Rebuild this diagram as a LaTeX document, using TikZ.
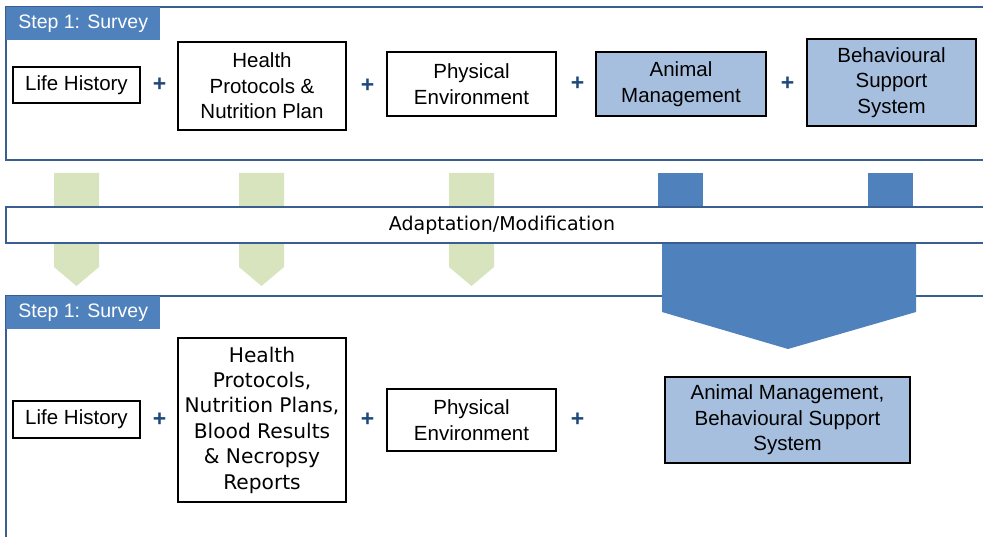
\documentclass[tikz,border=0pt]{standalone}
\usepackage{fontspec}
\setmainfont{Liberation Sans}
\newfontfamily\verdfont{DejaVu Sans}
\usepackage{tikz}
\usetikzlibrary{positioning,calc}
\definecolor{panelblue}{RGB}{58,94,145}
\definecolor{tabblue}{RGB}{79,129,189}
\definecolor{boxblue}{RGB}{167,191,222}
\definecolor{arrowgreen}{RGB}{215,228,189}
\definecolor{plusblue}{RGB}{31,73,125}
\tikzset{
    panel line/.style={draw=panelblue, line width=1.8pt},
    tab/.style={anchor=north west, fill=tabblue, text=white, minimum width=154, minimum height=33, inner sep=0pt, font=\fontsize{19.5}{22}\selectfont},
    item/.style={draw=black, line width=1.2pt, align=center, inner sep=0pt, font=\fontsize{20.5}{25.5}\selectfont},
    shaded item/.style={item, fill=boxblue},
    plus/.style={text=plusblue, inner sep=0pt, font=\fontsize{23}{23}\selectfont\bfseries},
    band/.style={panel line, fill=white, text=black, minimum width=992, minimum height=36, inner sep=0pt, font=\verdfont\fontsize{19}{22}\selectfont},
    green arrow/.style={fill=arrowgreen},
    blue arrow/.style={fill=tabblue},
}
\tikzstyle{every node}=[font=\fontsize{20.5}{25.5}\selectfont]

\begin{document}
\begin{tikzpicture}[x=1pt,y=-1pt]
    \useasboundingbox (0,0) rectangle (983,537);

    % panels
    \draw[panel line] (998,7) -- (6,7) -- (6,160) -- (998,160);
    \draw[panel line] (998,296) -- (6,296) -- (6,545);
    \node[tab] (tabA) at (6,7) {Step 1: Survey};
    \node[tab] (tabB) at (6,296) {Step 1: Survey};

    % arrows between the two surveys
    \foreach \x in {76.5,261.5,471.5}
        \fill[green arrow] (\x-22.5,173) -- (\x+22.5,173) -- (\x+22.5,267) -- (\x,286) -- (\x-22.5,267) -- cycle;
    \foreach \x in {680.5,890.5}
        \fill[blue arrow] (\x-22.5,173) rectangle (\x+22.5,212);
    \fill[blue arrow] (662,240) -- (916,240) -- (916,312) -- (788,349) -- (662,312) -- cycle;

    \node[band] (adapt) at (502,225) {Adaptation/Modification};

    \begin{scope}
        \node[item, minimum width=127, minimum height=36] (lifeA) at (76.5,85) {Life History};
        \node[item, minimum width=168, minimum height=88] (healthA) at (262,86) {Health\\Protocols \&\\Nutrition Plan};
        \node[item, minimum width=169, minimum height=64] (physA) at (471.5,84) {Physical\\Environment};
        \node[shaded item, minimum width=170, minimum height=64] (animalA) at (681,84) {Animal\\Management};
        \node[shaded item, minimum width=169, minimum height=87] (behavA) at (891.5,82.5) {Behavioural\\Support\\System};
        \node[plus, right=12pt of lifeA] (plusA1) {+};
        \node[plus, right=14pt of healthA] (plusA2) {+};
        \node[plus, right=14pt of physA] (plusA3) {+};
        \node[plus, right=14pt of animalA] (plusA4) {+};
    \end{scope}

    \begin{scope}
        \node[item, minimum width=127, minimum height=37] (lifeB) at (76.5,419.5) {Life History};
        \node[item, minimum width=168, minimum height=164, font=\verdfont\fontsize{20.2}{25.4}\selectfont] (healthB) at (262,420) {Health\\Protocols,\\Nutrition Plans,\\Blood Results\\\& Necropsy\\Reports};
        \node[item, minimum width=169, minimum height=62] (physB) at (471.5,420) {Physical\\Environment};
        \node[shaded item, minimum width=245, minimum height=86] (mgmtB) at (787.5,420) {Animal Management,\\Behavioural Support\\System};
        \node[plus, right=12pt of lifeB] (plusB1) {+};
        \node[plus, right=14pt of healthB] (plusB2) {+};
        \node[plus, right=14pt of physB] (plusB3) {+};
    \end{scope}
\end{tikzpicture}
\end{document}
